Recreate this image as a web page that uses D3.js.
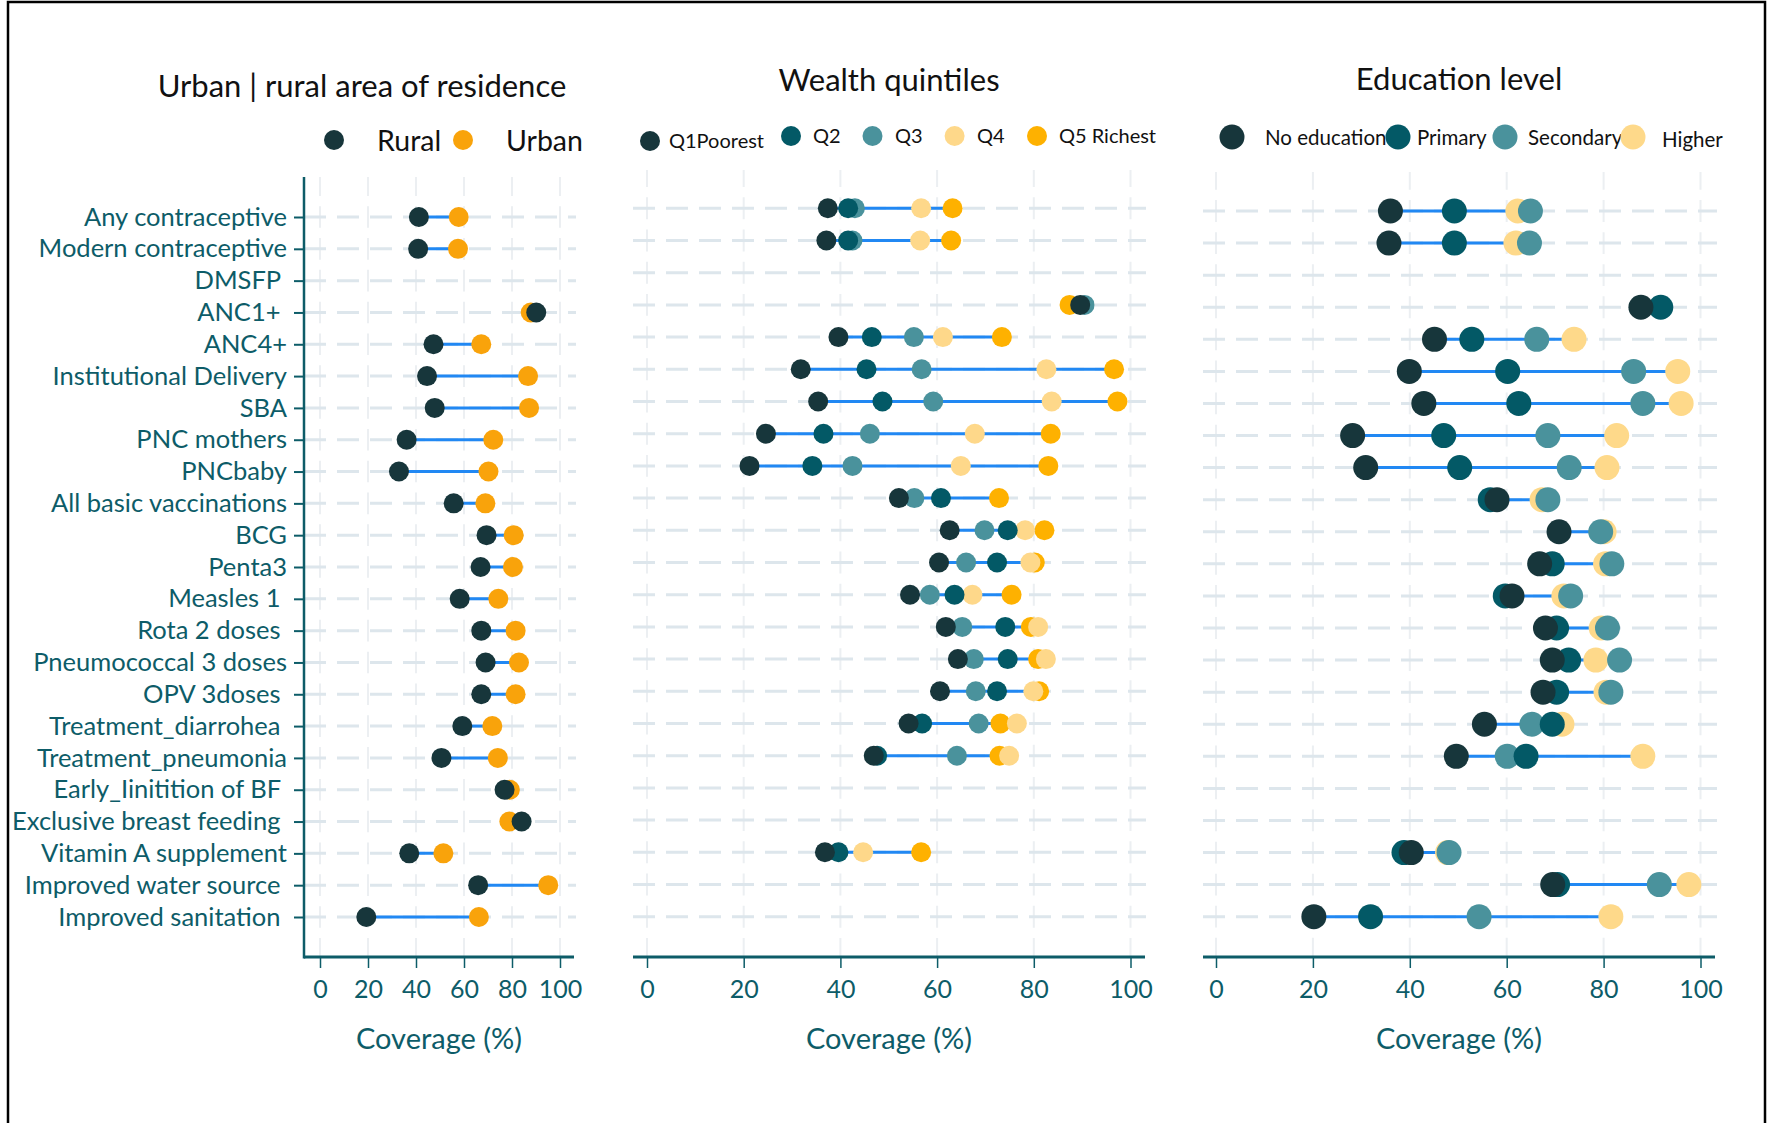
<!DOCTYPE html>
<html>
<head>
<meta charset="utf-8">
<script src="https://cdn.jsdelivr.net/npm/d3@7/dist/d3.min.js"></script>
<style>
  body { margin: 0; background: #fff; }
  svg text { font-family: Lato, "Open Sans", sans-serif; }
</style>
</head>
<body>
<div id="chart"></div>
<script>
// indicators, top to bottom (trailing spaces are in the source labels)
const indicators = [
  "Any contraceptive", "Modern contraceptive", "DMSFP ", "ANC1+ ", "ANC4+",
  "Institutional Delivery", "SBA", "PNC mothers", "PNCbaby", "All basic vaccinations",
  "BCG", "Penta3", "Measles 1 ", "Rota 2 doses ", "Pneumococcal 3 doses",
  "OPV 3doses ", "Treatment_diarrohea ", "Treatment_pneumonia", "Early_Iinitition of BF ",
  "Exclusive breast feeding ", "Vitamin A supplement", "Improved water source ", "Improved sanitation "
];
const xTicks = [0, 20, 40, 60, 80, 100];

// urban | rural
const residenceGroups = ["Rural", "Urban"];
const rural = [41.2, 40.9, null, 90.1, 47.3, 44.6, 47.8, 36.1, 32.9, 55.7, 69.4, 66.9, 58.2, 67.2, 69.0, 67.2, 59.3, 50.6, 76.9, 84.0, 37.2, 65.9, 19.3];
const urban = [57.8, 57.5, null, 87.8, 67.2, 86.7, 87.1, 72.2, 70.2, 68.9, 80.7, 80.4, 74.3, 81.5, 82.9, 81.5, 71.8, 74.1, 79.1, 78.9, 51.4, 95.1, 66.2];

// wealth quintiles
const wealthGroups = ["Q1Poorest", "Q2", "Q3", "Q4", "Q5 Richest"];
const q1 = [37.4, 37.1, null, 89.6, 39.6, 31.8, 35.4, 24.6, 21.2, 52.1, 62.6, 60.4, 54.4, 61.8, 64.3, 60.6, 54.1, 46.9, null, null, 36.8, null, null];
const q2 = [41.6, 41.6, null, null, 46.5, 45.4, 48.7, 36.5, 34.2, 60.8, 74.6, 72.4, 63.6, 74.1, 74.6, 72.4, 56.9, 47.6, null, null, 39.6, null, null];
const q3 = [43.0, 42.5, null, 90.5, 55.2, 56.8, 59.2, 46.1, 42.5, 55.3, 69.8, 66.0, 58.5, 65.2, 67.6, 68.0, 68.6, 64.1, null, null, null, null, null];
const q4 = [56.7, 56.5, null, null, 61.2, 82.6, 83.7, 67.8, 64.9, null, 78.2, 79.3, 67.3, 80.9, 82.5, 79.9, 76.5, 74.9, null, null, 44.7, null, null];
const q5 = [63.2, 62.9, null, 87.4, 73.4, 96.6, 97.3, 83.5, 83.0, 72.8, 82.2, 80.2, 75.4, 79.4, 80.9, 81.1, 73.1, 72.9, null, null, 56.7, null, null];

// education level
const educationGroups = ["No education", "Primary", "Secondary", "Higher"];
const noEducation = [36.0, 35.7, null, 87.7, 45.1, 39.9, 42.9, 28.2, 30.9, 58.0, 70.8, 66.8, 61.1, 68.0, 69.4, 67.5, 55.4, 49.6, null, null, 40.3, 69.5, 20.2];
const primary = [49.2, 49.2, null, 91.8, 52.8, 60.2, 62.5, 47.0, 50.3, 56.6, null, 69.4, 59.7, 70.3, 72.8, 70.3, 69.4, 64.0, null, null, 38.8, 70.5, 31.9];
const secondary = [64.9, 64.7, null, null, 66.2, 86.2, 88.1, 68.5, 72.9, 68.5, 79.4, 81.7, 73.2, 80.8, 83.3, 81.5, 65.2, 60.1, null, null, 48.1, 91.5, 54.3];
const higher = [62.3, 61.9, null, null, 73.9, 95.3, 96.0, 82.7, 80.7, 67.3, 80.1, 80.4, 71.8, 79.5, 78.4, 80.5, 71.4, 88.1, null, null, 47.8, 97.6, 81.5];

const width = 1767;
const height = 1123;
const axisColor = "#0d5c68";
const lineColor = "#2188f3";
const axisY = 957;

const svg = d3.select("#chart").append("svg")
  .attr("width", width)
  .attr("height", height);

// frame
svg.append("rect")
  .attr("x", 8).attr("y", 2)
  .attr("width", 1757).attr("height", height + 10)
  .attr("fill", "none")
  .attr("stroke", "#000")
  .attr("stroke-width", 2.5);

function drawPanel(p) {
  const g = svg.append("g");
  const x = d3.scaleLinear().domain([0, 100]).range([p.x0, p.x100]);
  const y = d3.scalePoint().domain(indicators).range([p.rowTop, p.rowBottom]);
  const step = y.step();

  // vertical grid, dashes centred on the rows
  const dash = step * 0.68;
  const offset = step - ((p.rowTop - p.gridTop - dash / 2) % step);
  g.append("g").selectAll("line")
    .data(xTicks)
    .enter()
    .append("line")
      .attr("x1", d => x(d)).attr("x2", d => x(d))
      .attr("y1", p.gridTop).attr("y2", axisY)
      .attr("stroke", "#eceff2")
      .attr("stroke-width", 2)
      .attr("stroke-dasharray", dash + "," + (step - dash))
      .attr("stroke-dashoffset", offset);

  // horizontal grid
  g.append("g").selectAll("line")
    .data(indicators)
    .enter()
    .append("line")
      .attr("x1", p.xStart).attr("x2", p.gridEnd)
      .attr("y1", d => y(d)).attr("y2", d => y(d))
      .attr("stroke", "#dde6ec")
      .attr("stroke-width", 3)
      .attr("stroke-dasharray", "22,11");

  // connecting lines (min to max of each row)
  const rows = indicators.map((name, i) => {
    const vals = p.series.map(s => s[i]).filter(v => v !== null);
    return { name: name, min: d3.min(vals), max: d3.max(vals), n: vals.length };
  }).filter(r => r.n > 1);

  g.append("g").selectAll("line")
    .data(rows)
    .enter()
    .append("line")
      .attr("x1", d => x(d.min)).attr("x2", d => x(d.max))
      .attr("y1", d => y(d.name)).attr("y2", d => y(d.name))
      .attr("stroke", lineColor)
      .attr("stroke-width", 3);

  // dots: last group first so the first group sits on top
  for (let k = p.series.length - 1; k >= 0; k--) {
    const pts = indicators.map((name, i) => ({ name: name, v: p.series[k][i] }))
                          .filter(d => d.v !== null);
    g.append("g").selectAll("circle")
      .data(pts)
      .enter()
      .append("circle")
        .attr("cx", d => x(d.v))
        .attr("cy", d => y(d.name))
        .attr("r", p.r)
        .attr("fill", p.colors[k]);
  }

  // x axis
  const xAxis = g.append("g")
    .attr("transform", "translate(0," + axisY + ")")
    .call(d3.axisBottom(x).tickValues(xTicks).tickSize(11).tickPadding(12));
  xAxis.select(".domain").remove();
  xAxis.selectAll(".tick line").attr("stroke", axisColor).attr("stroke-width", 1.5);
  xAxis.selectAll(".tick text")
    .attr("fill", axisColor)
    .style("font-size", "25px")
    .style("font-family", "Lato, sans-serif");
  g.append("line")
    .attr("x1", p.xStart).attr("x2", p.xEnd)
    .attr("y1", axisY).attr("y2", axisY)
    .attr("stroke", axisColor)
    .attr("stroke-width", 3);

  g.append("text")
    .attr("x", (p.xStart + p.xEnd) / 2)
    .attr("y", 1039)
    .attr("dy", "0.35em")
    .attr("text-anchor", "middle")
    .attr("fill", axisColor)
    .style("font-size", "29px")
    .text("Coverage (%)");

  // y axis (first panel only)
  if (p.yAxis) {
    const yAxis = g.append("g")
      .attr("transform", "translate(" + p.xStart + ",0)")
      .call(d3.axisLeft(y).tickSize(10).tickPadding(7));
    yAxis.select(".domain").remove();
    yAxis.selectAll(".tick line").attr("stroke", axisColor).attr("stroke-width", 2);
    yAxis.selectAll(".tick text")
      .attr("fill", axisColor)
      .style("font-size", "25.5px")
      .style("font-family", "Lato, sans-serif")
      .style("white-space", "pre");
    g.append("line")
      .attr("x1", p.xStart).attr("x2", p.xStart)
      .attr("y1", p.gridTop).attr("y2", axisY + 1.5)
      .attr("stroke", axisColor)
      .attr("stroke-width", 2.5);
  }

  // title
  g.append("text")
    .attr("x", p.titleX)
    .attr("y", p.titleY)
    .attr("dy", "0.35em")
    .attr("text-anchor", "middle")
    .attr("fill", "#111")
    .style("font-size", "31px")
    .text(p.title);

  // legend
  const leg = g.append("g");
  p.groups.forEach((name, k) => {
    leg.append("circle")
      .attr("cx", p.legend.dotX[k])
      .attr("cy", p.legend.dotY[k])
      .attr("r", p.legend.r)
      .attr("fill", p.colors[k]);
    leg.append("text")
      .attr("x", p.legend.textX[k])
      .attr("y", p.legend.textY[k])
      .attr("dy", "0.35em")
      .attr("fill", "#111")
      .style("font-size", p.legend.font + "px")
      .text(name);
  });
}

drawPanel({
  title: "Urban | rural area of residence", titleX: 362, titleY: 86,
  groups: residenceGroups, series: [rural, urban],
  colors: ["#17363b", "#f9a30b"], r: 10,
  x0: 320, x100: 560, xStart: 304, xEnd: 574, gridEnd: 576,
  rowTop: 217, rowBottom: 917, gridTop: 177, yAxis: true,
  legend: { r: 10, font: 28.5, dotX: [334, 463], dotY: [140, 140],
            textX: [377, 506], textY: [141, 141] }
});

drawPanel({
  title: "Wealth quintiles", titleX: 889, titleY: 80,
  groups: wealthGroups, series: [q1, q2, q3, q4, q5],
  colors: ["#17363b", "#035966", "#4a929c", "#fed88a", "#feb100"], r: 10,
  x0: 647, x100: 1130.5, xStart: 633, xEnd: 1145, gridEnd: 1146,
  rowTop: 208.3, rowBottom: 916.7, gridTop: 170, yAxis: false,
  legend: { r: 10, font: 20, dotX: [650, 791, 872.5, 954.6, 1037], dotY: [141, 136, 136, 136, 136],
            textX: [669, 813, 895, 977, 1059], textY: [141, 136, 136, 136, 136] }
});

drawPanel({
  title: "Education level", titleX: 1459, titleY: 79,
  groups: educationGroups, series: [noEducation, primary, secondary, higher],
  colors: ["#17363b", "#035966", "#4a929c", "#fed98a"], r: 12.5,
  x0: 1216, x100: 1700.5, xStart: 1203, xEnd: 1715, gridEnd: 1717,
  rowTop: 211, rowBottom: 916.7, gridTop: 172, yAxis: false,
  legend: { r: 12.5, font: 20.5, dotX: [1232, 1398, 1505, 1633], dotY: [137, 137, 137, 137],
            textX: [1265, 1417, 1528, 1662], textY: [138, 138, 138, 140] }
});
</script>
</body>
</html>
